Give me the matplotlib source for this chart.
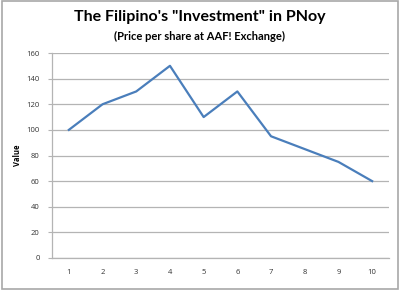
import matplotlib
matplotlib.use("Agg")
import matplotlib.pyplot as plt
from matplotlib.patches import Rectangle

# data
weeks = [1, 2, 3, 4, 5, 6, 7, 8, 9, 10]
price = [100, 120, 130, 150, 110, 130, 95, 85, 75, 60]
yticks = [0, 20, 40, 60, 80, 100, 120, 140, 160]

plt.rcParams['font.family'] = ['Open Sans', 'DejaVu Sans']

fig = plt.figure(figsize=(4, 2.9), dpi=100)
ax = fig.add_axes([52 / 400, 1 - 258 / 290, 337 / 400, 205 / 290])

ax.plot(weeks, price, color='#4a7ebb', linewidth=1.6)

ax.set_xlim(0.5, 10.5)
ax.set_ylim(0, 160)
ax.set_xticks(weeks)
ax.set_yticks(yticks)
ax.yaxis.grid(True, color='#b4b4b4', linewidth=0.9)
ax.set_axisbelow(True)
for s in ['top', 'right']:
    ax.spines[s].set_visible(False)
for s in ['left', 'bottom']:
    ax.spines[s].set_color('#b4b4b4')
    ax.spines[s].set_linewidth(0.9)
ax.tick_params(axis='y', length=3, color='#b4b4b4', labelsize=5.5, labelcolor='#333333', pad=6)
ax.tick_params(axis='x', length=0, labelsize=5.5, labelcolor='#333333', pad=8)
ax.set_ylabel('Value', fontsize=5.5, fontweight='bold', labelpad=3)

fig.text(0.5, 1 - 17 / 290, 'The Filipino\'s "Investment" in PNoy', ha='center', va='center',
         fontsize=11.5, fontweight='bold', family=['Lato', 'DejaVu Sans'])
fig.text(0.5, 1 - 36 / 290, '(Price per share at AAF! Exchange)', ha='center', va='center',
         fontsize=8, fontweight='bold', family=['Lato', 'DejaVu Sans'])

# outer frame
fig.patches.append(Rectangle((0.004, 0.005), 0.992, 0.99, transform=fig.transFigure,
                             fill=False, edgecolor='#a8a8a8', linewidth=1.2))

fig.savefig('out.png', dpi=100)
